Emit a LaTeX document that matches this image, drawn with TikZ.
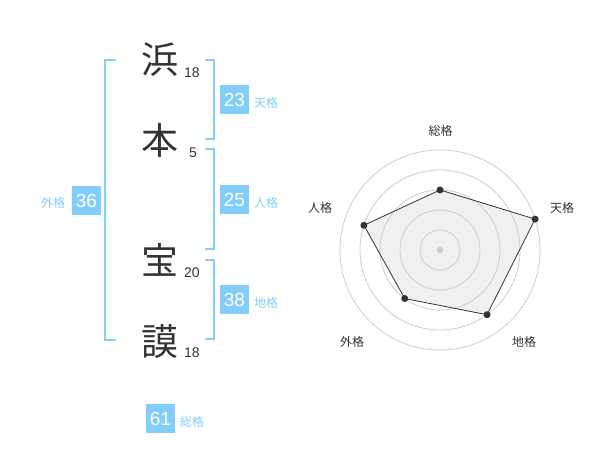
\documentclass[tikz,border=0pt]{standalone}
\usepackage{fontspec}
\usetikzlibrary{calc}
\setmainfont{Liberation Sans}
\newfontfamily\cjk{Noto Sans CJK JP}
\definecolor{lblue}{RGB}{130,205,250}
\definecolor{dark}{RGB}{51,51,51}
\definecolor{ring}{RGB}{204,204,204}
\definecolor{polyfill}{RGB}{240,240,240}
\begin{document}
\begin{tikzpicture}[x=1pt,y=1pt,
  kanji/.style={font=\cjk\fontsize{37}{37}\selectfont, text=dark, inner sep=0},
  stroke/.style={font=\fontsize{14}{14}\selectfont, text=dark, inner sep=0},
  valbox/.style={fill=lblue, text=white, minimum size=29, inner sep=0, font=\fontsize{19}{19}\selectfont},
  vallabel/.style={text=lblue, inner sep=0, font=\cjk\fontsize{12}{12}\selectfont},
  bracket/.style={draw=lblue, line width=2},
  axislabel/.style={text=dark, inner sep=0, font=\cjk\fontsize{12}{12}\selectfont},
  dot/.style={circle, fill=dark, inner sep=0, minimum size=7},
]
\useasboundingbox (0,0) rectangle (600,470);
% name characters
\node[kanji] (k1) at (160,410) {浜};
\node[stroke] (s1) at (192,397) {18};
\node[kanji] (k2) at (160,330) {本};
\node[stroke] (s2) at (193,317) {5};
\node[kanji] (k3) at (160,210) {宝};
\node[stroke] (s3) at (192,197) {20};
\node[kanji] (k4) at (160,129) {謨};
\node[stroke] (s4) at (192,117) {18};
% brackets
\draw[bracket] (116,410) -- (105,410) -- (105,130) -- (116,130);
\draw[bracket] (205,410) -- (214,410) -- (214,331) -- (205,331);
\draw[bracket] (205,321) -- (214,321) -- (214,221) -- (205,221);
\draw[bracket] (205,210) -- (214,210) -- (214,131) -- (205,131);
% values
\node[valbox] (b23) at (234.5,370) {23};
\node[vallabel] (l23) at (266,367) {天格};
\node[valbox] (b25) at (234.5,270) {25};
\node[vallabel] (l25) at (266,267) {人格};
\node[valbox] (b36) at (86.5,269) {36};
\node[vallabel] (l36) at (53,267) {外格};
\node[valbox] (b38) at (234.5,170) {38};
\node[vallabel] (l38) at (266,167) {地格};
\node[valbox] (b61) at (160.5,51) {61};
\node[vallabel] (l61) at (192,48) {総格};
% radar
\coordinate (c) at (440,220);
\coordinate (p1) at ($(c)+(90:60)$);
\coordinate (p2) at ($(c)+(18:100)$);
\coordinate (p3) at ($(c)+(-54:80)$);
\coordinate (p4) at ($(c)+(-126:60)$);
\coordinate (p5) at ($(c)+(162:80)$);
\fill[polyfill] (p1) -- (p2) -- (p3) -- (p4) -- (p5) -- cycle;
\foreach \r in {20,40,60,80,100} \draw[ring, line width=0.8] (c) circle[radius=\r];
\fill[ring] (c) circle[radius=3.5];
\draw[dark, line width=0.8] (p1) -- (p2) -- (p3) -- (p4) -- (p5) -- cycle;
\foreach \p in {p1,p2,p3,p4,p5} \node[dot] at (\p) {};
\node[axislabel] (a1) at ($(c)+(0.5,119)$) {総格};
\node[axislabel] (a2) at ($(c)+(122,42)$) {天格};
\node[axislabel] (a3) at ($(c)+(84,-91.5)$) {地格};
\node[axislabel] (a4) at ($(c)+(-88,-91.5)$) {外格};
\node[axislabel] (a5) at ($(c)+(-120,42)$) {人格};
\end{tikzpicture}
\end{document}
